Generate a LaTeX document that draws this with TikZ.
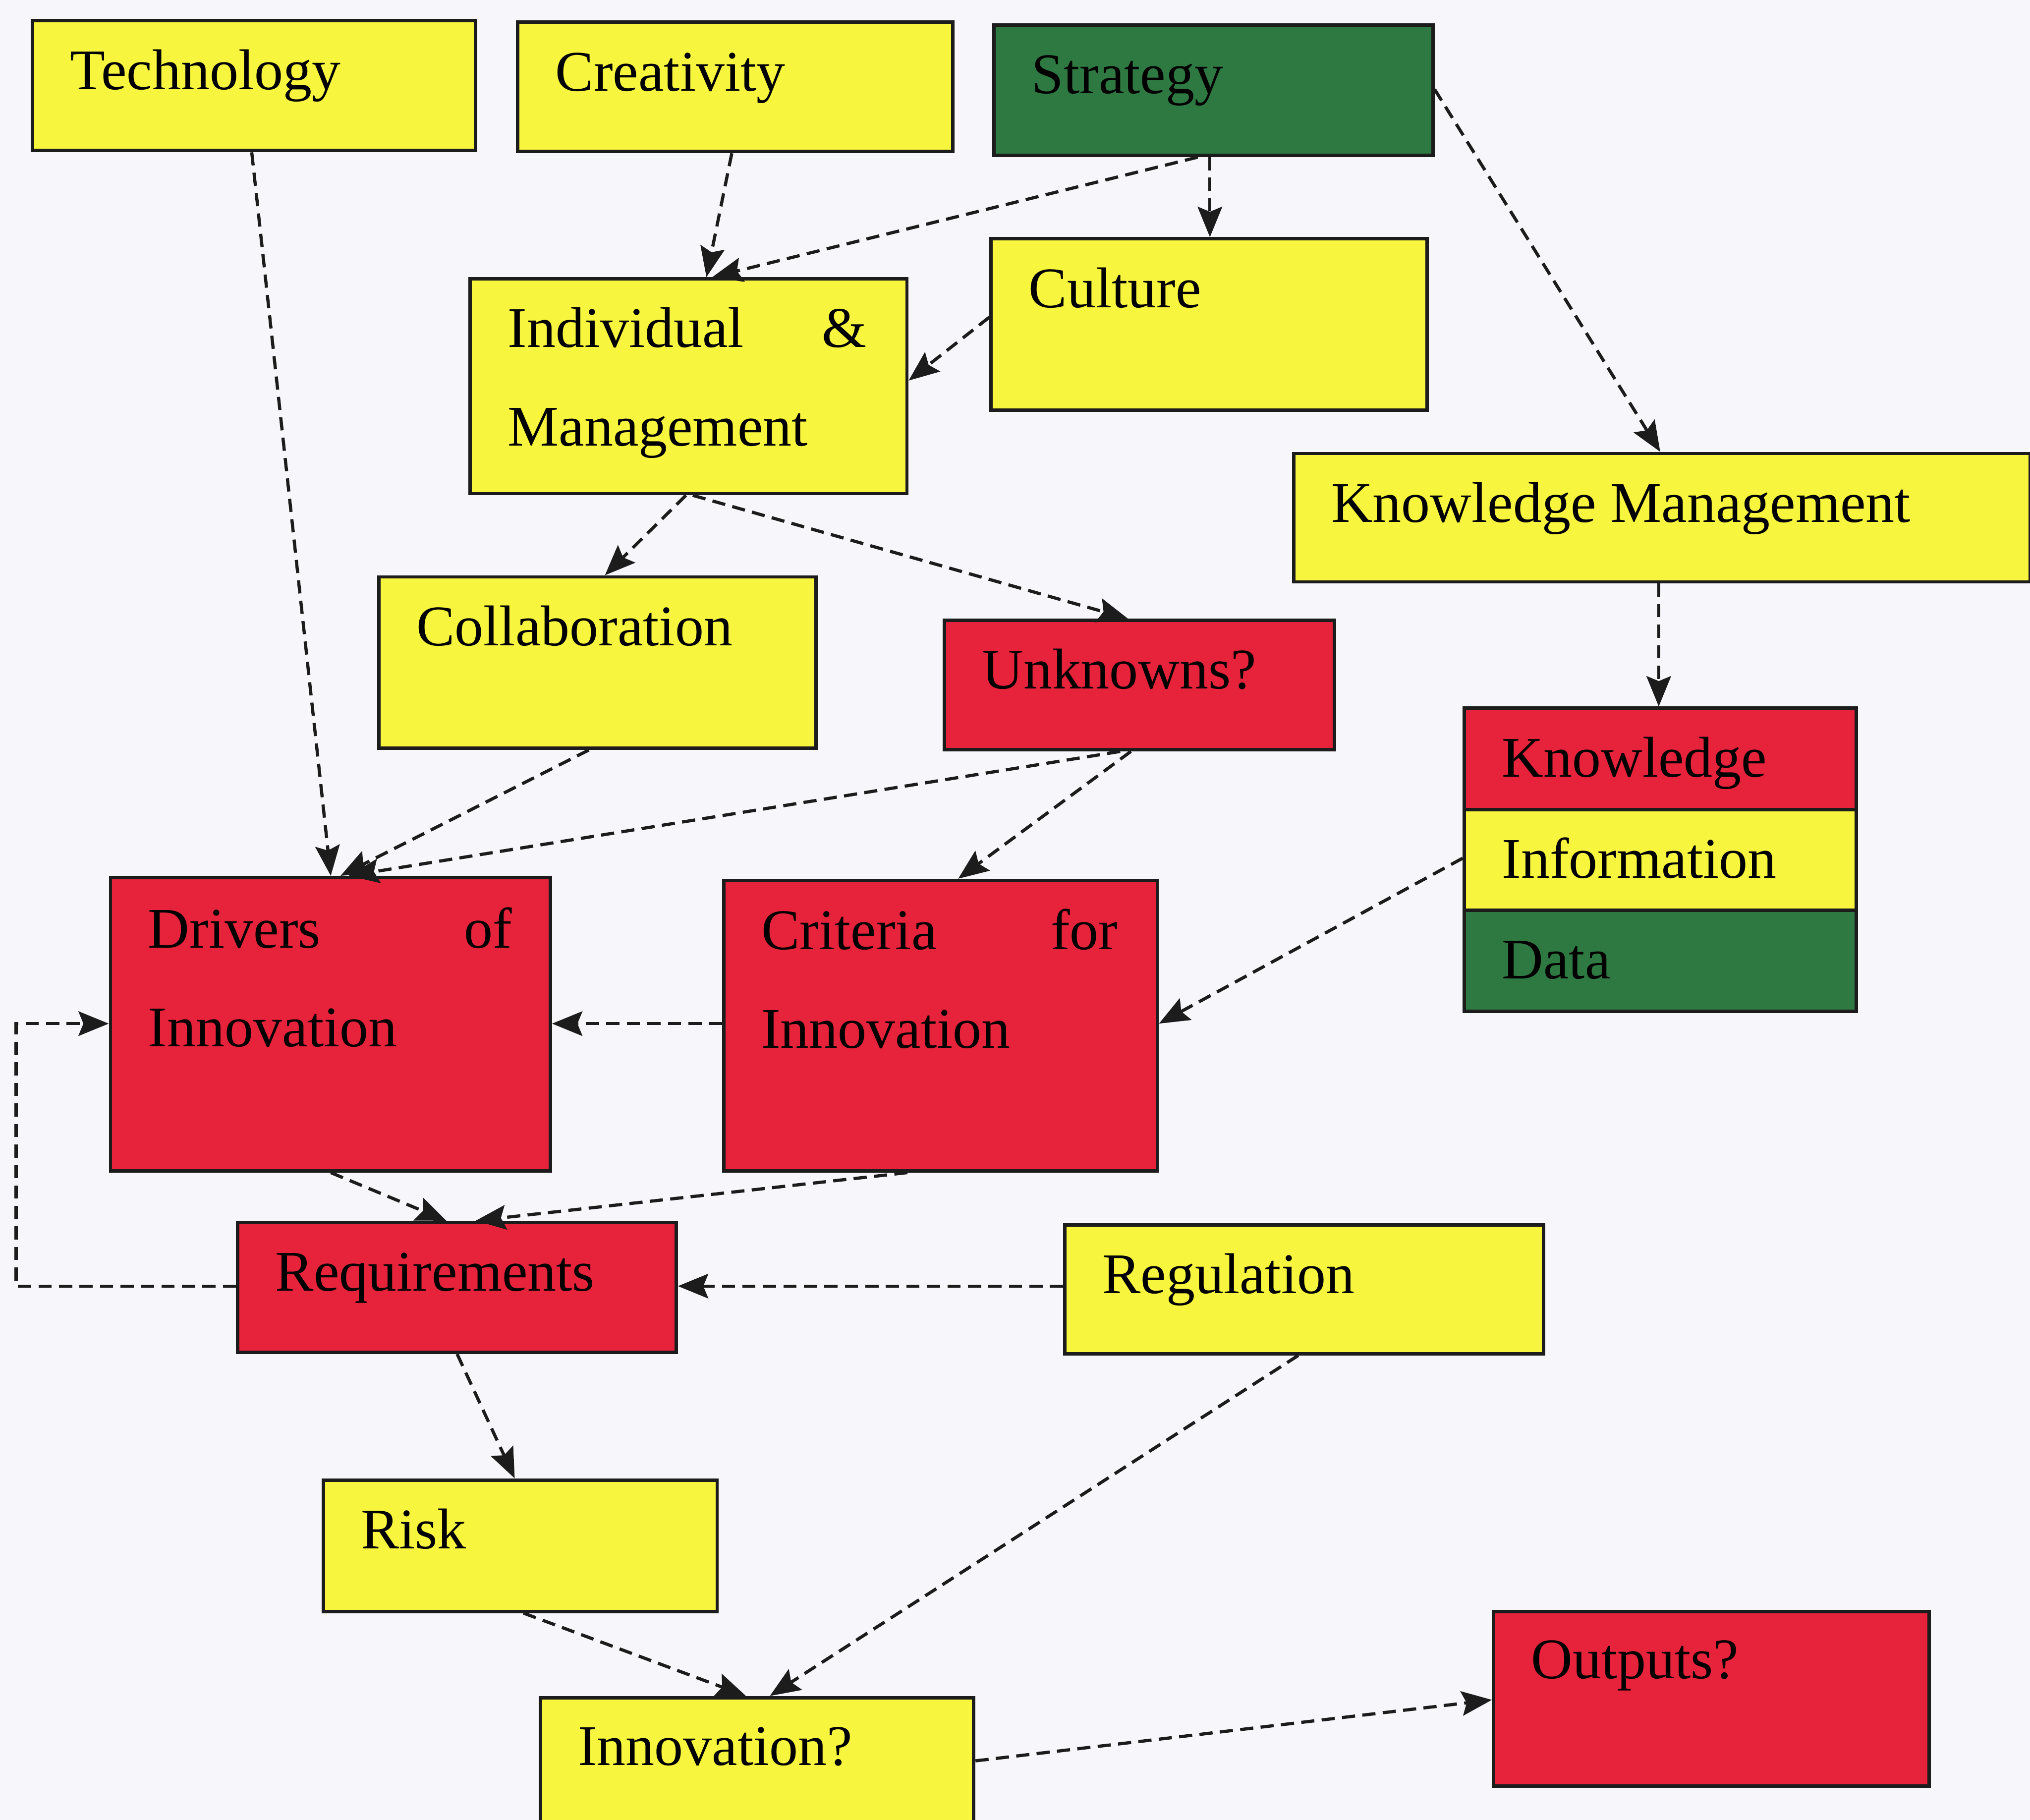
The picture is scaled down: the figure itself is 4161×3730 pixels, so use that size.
\documentclass[tikz,border=0pt]{standalone}
\usepackage{fontspec}
\setmainfont{Liberation Serif}
\usetikzlibrary{arrows.meta,calc}

\definecolor{cbg}{HTML}{F7F6FA}
\definecolor{cyel}{HTML}{F8F53F}
\definecolor{cred}{HTML}{E6233A}
\definecolor{cgrn}{HTML}{2E7841}
\definecolor{cline}{HTML}{1C1C1C}

\tikzset{
  box/.style={draw=cline, line width=0.07cm, anchor=north west, inner sep=0pt, rectangle},
  ybox/.style={box, fill=cyel},
  rbox/.style={box, fill=cred},
  gbox/.style={box, fill=cgrn},
  lbl/.style={anchor=base west, inner sep=0pt, text=black,
    font=\fontsize{33.5}{40}\selectfont},
  conn/.style={draw=cline, line width=0.065cm, dash pattern=on 0.27cm off 0.15cm,
    -{Stealth[length=0.62cm,width=0.5cm,inset=0.1cm]}},
}

\begin{document}
\begin{tikzpicture}[x=0.01cm, y=-0.01cm]
\useasboundingbox (0,0) rectangle (4161,3730);
\clip (0,0) rectangle (4161,3730);
\fill[cbg] (0,0) rectangle (4161,3730);

% boxes
\node[ybox, minimum width=9.08cm, minimum height=2.66cm] (tech) at (63,39) {};
\node[ybox, minimum width=8.91cm, minimum height=2.65cm] (crea) at (1058,42) {};
\node[gbox, minimum width=8.99cm, minimum height=2.67cm] (strat) at (2034,48) {};
\node[ybox, minimum width=8.93cm, minimum height=3.51cm] (cult) at (2028,486) {};
\node[ybox, minimum width=8.95cm, minimum height=4.40cm] (indiv) at (960,568) {};
\node[ybox, minimum width=15.09cm, minimum height=2.63cm] (km) at (2648,926) {};
\node[ybox, minimum width=8.96cm, minimum height=3.51cm] (collab) at (773,1179) {};
\node[rbox, minimum width=7.99cm, minimum height=2.65cm] (unk) at (1932,1268) {};
\node[rbox, minimum width=8.03cm, minimum height=2.08cm] (know) at (2998,1448) {};
\node[ybox, minimum width=8.03cm, minimum height=2.06cm] (info) at (2998,1656) {};
\node[gbox, minimum width=8.03cm, minimum height=2.07cm] (data) at (2998,1862) {};
\node[rbox, minimum width=9.01cm, minimum height=6.01cm] (drv) at (223,1795) {};
\node[rbox, minimum width=8.88cm, minimum height=5.95cm] (crit) at (1480,1801) {};
\node[rbox, minimum width=8.98cm, minimum height=2.66cm] (req) at (484,2502) {};
\node[ybox, minimum width=9.81cm, minimum height=2.64cm] (reg) at (2179,2507) {};
\node[ybox, minimum width=8.07cm, minimum height=2.69cm] (risk) at (659,3030) {};
\node[ybox, minimum width=8.88cm, minimum height=4.00cm] (innov) at (1104,3476) {};
\node[rbox, minimum width=8.92cm, minimum height=3.57cm] (outp) at (3058,3300) {};

% labels
\node[lbl] (tech-t) at ($(tech.north west)+(80,144)$) {Technology};
\node[lbl] (crea-t) at ($(crea.north west)+(80,144)$) {Creativity};
\node[lbl] (strat-t) at ($(strat.north west)+(80,144)$) {Strategy};
\node[lbl] (cult-t) at ($(cult.north west)+(80,144)$) {Culture};
\node[lbl] (indiv-t1) at ($(indiv.north west)+(80,144)$) {\makebox[7.35cm][s]{Individual\hfill\&}};
\node[lbl] (indiv-t2) at ($(indiv.north west)+(80,346)$) {Management};
\node[lbl] (km-t) at ($(km.north west)+(80,144)$) {Knowledge Management};
\node[lbl] (collab-t) at ($(collab.north west)+(80,144)$) {Collaboration};
\node[lbl] (unk-t) at ($(unk.north west)+(80,144)$) {Unknowns?};
\node[lbl] (know-t) at ($(know.north west)+(80,144)$) {Knowledge};
\node[lbl] (info-t) at ($(info.north west)+(80,144)$) {Information};
\node[lbl] (data-t) at ($(data.north west)+(80,144)$) {Data};
\node[lbl] (drv-t1) at ($(drv.north west)+(80,148)$) {\makebox[7.45cm][s]{Drivers\hfill of}};
\node[lbl] (drv-t2) at ($(drv.north west)+(80,350)$) {Innovation};
\node[lbl] (crit-t1) at ($(crit.north west)+(80,145)$) {\makebox[7.30cm][s]{Criteria\hfill for}};
\node[lbl] (crit-t2) at ($(crit.north west)+(80,347)$) {Innovation};
\node[lbl] (req-t) at ($(req.north west)+(80,144)$) {Requirements};
\node[lbl] (reg-t) at ($(reg.north west)+(80,144)$) {Regulation};
\node[lbl] (risk-t) at ($(risk.north west)+(80,144)$) {Risk};
\node[lbl] (innov-t) at ($(innov.north west)+(80,142)$) {Innovation?};
\node[lbl] (outp-t) at ($(outp.north west)+(80,140)$) {Outputs?};

% connectors
\draw[conn] ($(tech.south west)+(453,0)$) -- ($(drv.north west)+(455,0)$);
\draw[conn] ($(crea.south west)+(442,0)$) -- ($(indiv.north west)+(488,0)$);
\draw[conn] ($(strat.south west)+(421,0)$) -- ($(indiv.north west)+(500,0)$);
\draw[conn] ($(strat.south west)+(446,0)$) -- ($(cult.north west)+(452,0)$);
\draw[conn] ($(strat.north east)+(0,135)$) -- ($(km.north west)+(755,0)$);
\draw[conn] ($(cult.north west)+(0,164)$) -- ($(indiv.north east)+(0,212)$);
\draw[conn] ($(indiv.south west)+(446,0)$) -- ($(collab.north west)+(467,0)$);
\draw[conn] ($(indiv.south west)+(460,0)$) -- ($(unk.north west)+(380,0)$);
\draw[conn] ($(km.south west)+(752,0)$) -- ($(know.north west)+(402,0)$);
\draw[conn] ($(collab.south west)+(434,0)$) -- ($(drv.north west)+(475,0)$);
\draw[conn] ($(unk.south west)+(364,0)$) -- ($(drv.north west)+(492,0)$);
\draw[conn] ($(unk.south west)+(386,0)$) -- ($(crit.north west)+(484,0)$);
\draw[conn] ($(info.north west)+(0,103)$) -- ($(crit.north east)+(0,297)$);
\draw[conn] ($(crit.north west)+(0,297)$) -- ($(drv.north east)+(0,303)$);
\coordinate (loopc) at (33,2098);
\draw[conn] ($(req.north west)+(0,134)$) -| (loopc) -- ($(drv.north west)+(0,303)$);
\draw[conn] ($(drv.south west)+(455,0)$) -- ($(req.north west)+(431,0)$);
\draw[conn] ($(crit.south west)+(380,0)$) -- ($(req.north west)+(491,0)$);
\draw[conn] ($(reg.north west)+(0,129)$) -- ($(req.north east)+(0,134)$);
\draw[conn] ($(req.south west)+(453,0)$) -- ($(risk.north west)+(396,0)$);
\draw[conn] ($(risk.south west)+(414,0)$) -- ($(innov.north west)+(425,0)$);
\draw[conn] ($(reg.south west)+(482,0)$) -- ($(innov.north west)+(474,0)$);
\draw[conn] ($(innov.north east)+(0,133)$) -- ($(outp.north west)+(0,184)$);
\end{tikzpicture}
\end{document}
